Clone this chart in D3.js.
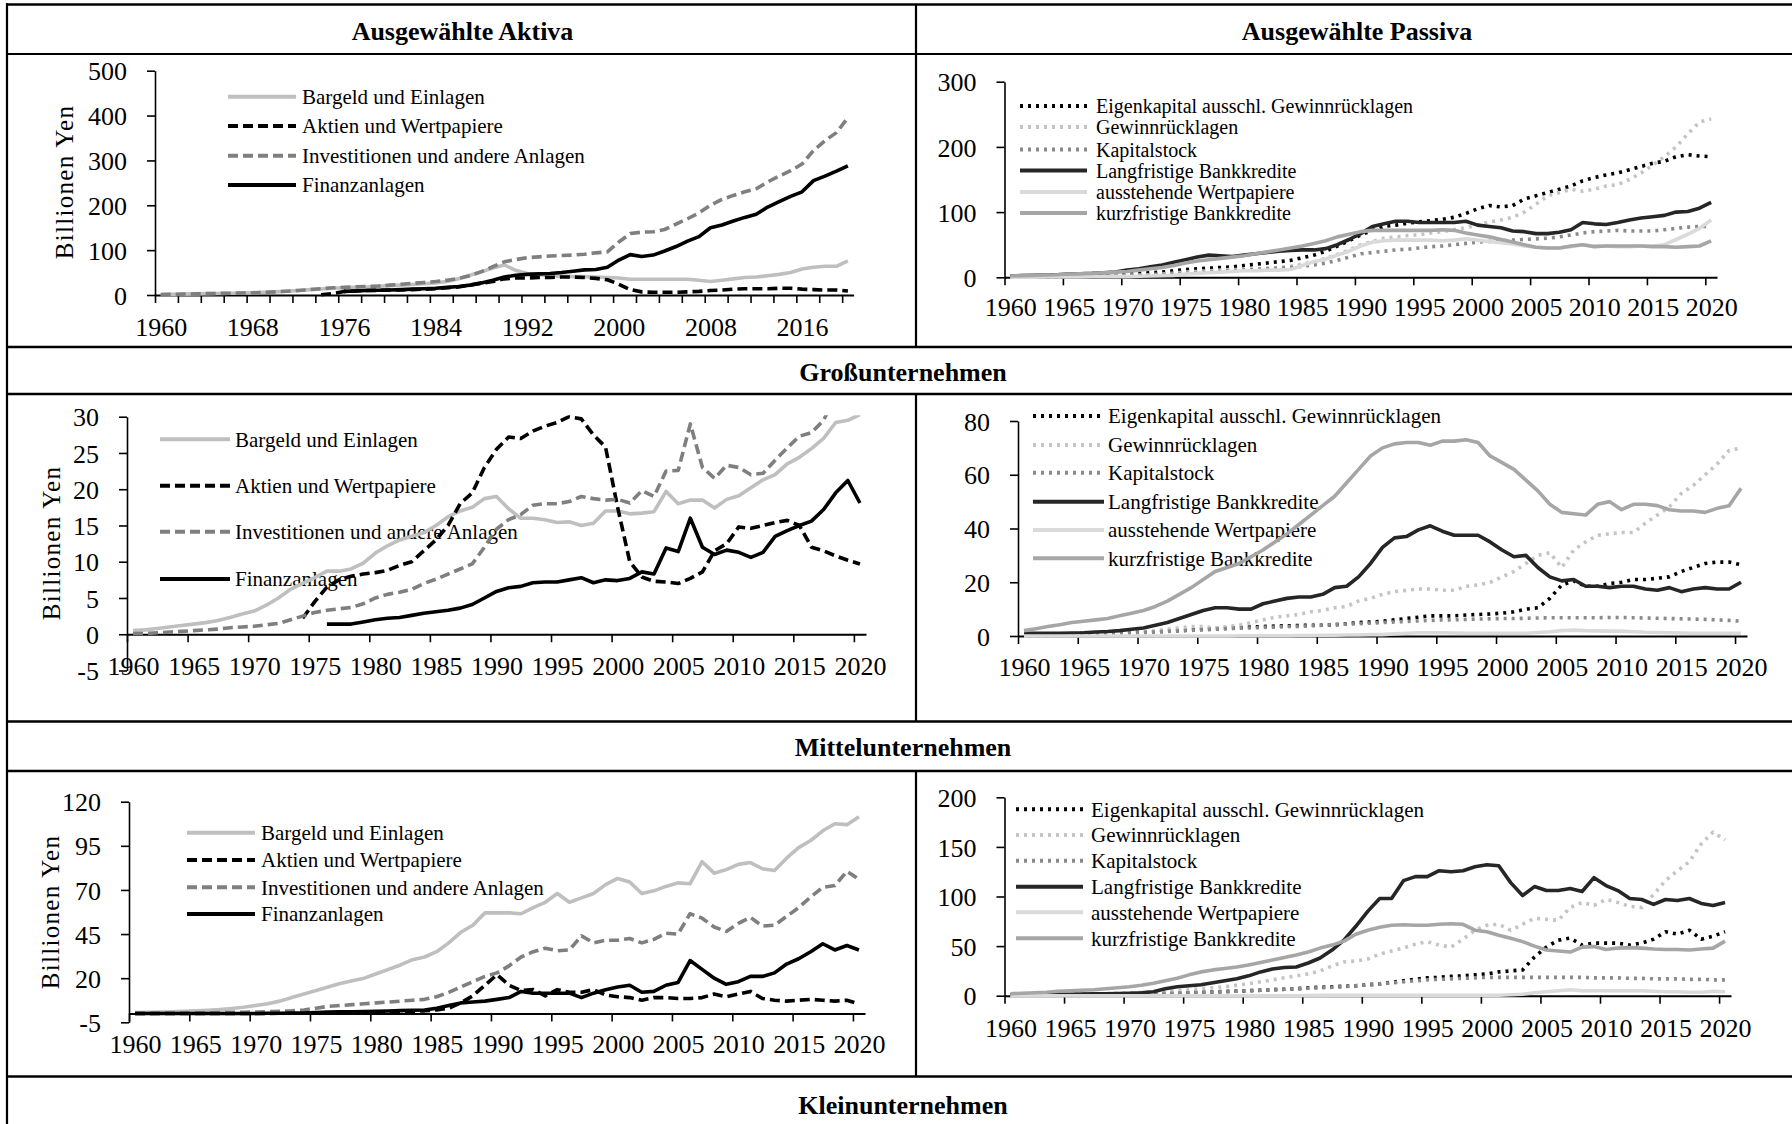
<!DOCTYPE html>
<html><head><meta charset="utf-8">
<script src="https://cdn.jsdelivr.net/npm/d3@7"></script>
<style>html,body{margin:0;padding:0;background:#fff;}svg{display:block;}</style>
</head><body>
<svg id="chart" width="1792" height="1124"></svg>
<script>
const years = d3.range(1960, 2021);

const headerTexts = ["Ausgewählte Aktiva", "Ausgewählte Passiva", "Großunternehmen", "Mittelunternehmen", "Kleinunternehmen"];
const aktivaNames = ["Bargeld und Einlagen", "Aktien und Wertpapiere", "Investitionen und andere Anlagen", "Finanzanlagen"];
const passivaNames = ["Eigenkapital ausschl. Gewinnrücklagen", "Gewinnrücklagen", "Kapitalstock", "Langfristige Bankkredite", "ausstehende Wertpapiere", "kurzfristige Bankkredite"];
const yAxisTitle = "Billionen Yen";

// ---------- Ausgewählte Aktiva (gesamt) ----------
const bargeldGesamt = [1,1.5,2,2.5,3,3.5,4,4.5,5,6, 7,8.5,10,12,13.5,15,16,17,18,19.5, 21,22,23.5,25,27,30,36,44,52,60, 67,55,48,45,43,42,41,41,40,39, 38,35,35,35,35,35,35,33,30,33, 36,39,40,43,46,50,58,62,64,64, 76];
const aktienGesamt = [null,null,null,null,null,null,null,null,null,null, null,null,null,null,0.5,3,8,9,10,10.5, 11,11.5,12,13,14,16,18,22,26,30, 36,38,38,39,39,40,40,39,37,34, 24,12,7,6,6,6,7,8,10,11, 13,14,14,14,15,15,13,12,11,11, 9];
const investGesamt = [1,1.5,2,2.5,3,3.5,4,4.5,5,6, 7,8.5,10,12,14,16,17,18,19,20, 22,24,26,28,30,33,37,43,52,63, 74,79,83,85,87,88,89,91,94,96, 118,137,140,141,146,158,170,183,200,213, 222,230,237,252,265,277,292,322,344,362, 395];
const finanzGesamt = [null,null,null,null,null,null,null,null,null,null, null,null,null,null,null,null,8,9,10,10.5, 11,12,13,14,15,17,19,22,27,33, 40,44,46,47,48,50,53,56,57,62, 78,90,86,89,98,108,120,130,150,156, 165,173,180,196,208,220,230,255,265,276, 288];

// ---------- Ausgewählte Passiva (gesamt) ----------
const eigenGesamt = [1,1.5,2,2.5,3,3.5,4,4,4.5,5, 5,6,7,8,10,12,13,14,15,16, 18,20,22,24,26,30,34,40,48,56, 65,72,78,80,83,85,87,89,92,98, 105,110,108,110,120,125,130,135,140,148, 153,157,160,165,170,175,178,185,188,186, 185];
const gewinnGesamt = [0,0.5,0.5,1,1,1.5,1.5,2,2,2.5, 3,3.5,4,5,6,8,9,10,11,12, 12,13,14,15,17,20,24,29,35,42, 50,55,60,62,64,65,68,70,73,76, 80,85,88,92,100,112,125,130,135,132, 135,140,142,150,160,172,185,200,220,238, 243];
const kapitalGesamt = [0,0.5,0.5,1,1,1,1.5,1.5,2,2, 2,2.5,3,4,5,6,7,8,9,10, 11,12,13,14,15,17,19,22,26,31, 36,38,40,42,43,45,47,48,50,52, 54,55,56,57,58,59,60,62,65,68, 70,71,72,71,71,71,73,75,77,78, 78];
const langGesamt = [2,2.5,3,3.5,4,5,5.5,6,7,8, 11,13,16,19,23,27,31,34,33,32, 34,36,38,40,41,42,42,44,50,58, 67,78,82,86,86,84,84,84,84,86, 80,78,76,71,70,67,67,69,73,84, 82,81,84,88,91,93,95,100,101,106, 115];
const austGesamt = [0,0,0,0.5,0.5,0.5,0.5,1,1,1, 1,1.5,2,2.5,3,5,6,7,8,9, 10,10,11,11,12,18,24,28,34,40, 48,54,56,57,57,57,57,56,57,59, 57,55,53,51,48,46,45,45,47,50, 48,48,47,47,48,48,50,58,66,75, 88];
const kurzGesamt = [2,2.5,3,3.5,4,5,5.5,6,7,8, 9,11,13,15,18,22,25,27,29,31, 33,36,39,42,45,48,52,56,62,66, 70,72,72,72,72,72,72,73,72,68, 65,62,58,54,50,46,45,45,48,50, 47,48,48,48,48,47,47,46,47,48, 56];

// ---------- Großunternehmen ----------
const bargeldGross = [0.5,0.6,0.8,1,1.2,1.4,1.6,1.9,2.3,2.8, 3.2,4,5,6.2,7,7.8,8.7,8.7,9,9.8, 11.2,12.2,13,13.5,14,15,16.2,17,17.5,18.7, 19,17.3,16,16,15.8,15.4,15.5,15,15.3,17, 17,16.6,16.7,16.9,19.7,18,18.5,18.5,17.4,18.6, 19.1,20.2,21.3,22,23.5,24.4,25.6,27,29.2,29.5, 30.3];
const aktienGross = [null,null,null,null,null,null,null,null,null,null, null,null,null,null,2.2,4.5,6.5,7.5,8,8.3, 8.5,8.8,9.5,10,11.5,13,15,18,19.5,23, 25.5,27.2,27,28,28.7,29.2,30,29.7,27.5,25.8, 17.5,10,7.9,7.3,7.2,7,7.7,8.6,11.5,12.5, 14.8,14.6,15,15.4,15.7,15,12,11.5,10.8,10.2, 9.7];
const investGross = [0.1,0.1,0.2,0.3,0.4,0.5,0.6,0.7,0.9,1, 1.1,1.3,1.5,2,2.5,3,3.3,3.5,3.7,4.2, 5,5.5,5.8,6.2,7,7.6,8.3,9,9.7,12, 14.5,15.8,16.5,17.8,18,18,18.3,19,18.7,18.5, 18.6,18.1,19.8,19,22.5,22.6,29,23,21.5,23.3, 23,22,22.2,24,25.7,27.3,27.8,29.5,33,34, 35];
const finanzGross = [null,null,null,null,null,null,null,null,null,null, null,null,null,null,null,null,1.4,1.4,1.4,1.7, 2,2.2,2.3,2.6,2.9,3.1,3.3,3.6,4.1,5, 5.9,6.4,6.6,7.1,7.2,7.2,7.5,7.8,7.1,7.5, 7.4,7.7,8.6,8.3,11.9,11.4,16,12,11,11.6, 11.3,10.6,11.3,13.5,14.3,15,15.6,17.2,19.5,21.2, 18.1];

const eigenGross = [0.5,0.5,0.6,0.7,0.8,1,1,1.1,1.2,1.3, 1.5,1.6,1.8,2,2.2,2.5,2.7,2.9,3.1,3.3, 3.5,3.7,3.8,3.9,4,4,4.2,4.5,5,5.2, 5.5,6,6.5,7,7.5,7.5,7.5,7.8,8,8.2, 8.5,9,10,10.5,14,19,20.5,18.5,18.5,19.5, 20,21,21,21.5,22,24,25.5,27,27.5,27.5, 26.5];
const gewinnGross = [0,0.1,0.2,0.3,0.4,0.5,0.6,0.8,1,1.2, 1.5,2,2.5,3,3.5,3.5,3,3.5,4,5, 6,7,7.5,8,9,9.5,10.5,11,13,14, 15.5,16.5,17,17.5,17.5,17,17,18.5,19,20, 22,24,27,30,31,25.5,32,35,37.5,38, 38.5,38.5,42,45,48,53,56,60,64,69, 70];
const kapitalGross = [0.5,0.5,0.6,0.7,0.8,0.9,1,1,1.1,1.2, 1.3,1.5,1.7,1.9,2.1,2.3,2.5,2.7,2.9,3, 3.2,3.3,3.5,3.6,3.8,4,4.2,4.4,4.6,4.8, 5,5.2,5.4,5.6,5.8,6,6,6.2,6.3,6.4, 6.5,6.5,6.6,6.7,6.8,6.8,6.8,6.8,6.8,6.9, 6.9,6.8,6.7,6.6,6.5,6.4,6.3,6.2,6,5.8, 5.5];
const langGross = [1,1,1,1,1.1,1.2,1.5,1.7,2,2.5, 3,4,5,6.5,8,9.5,10.5,10.5,10,10, 12,13,14,14.5,14.5,15.5,18,18.5,22,27, 33,36.5,37,39.5,41,39,37.5,37.5,37.5,35, 32,29.5,30,25.5,22,20.5,21,18.5,18.5,18, 18.5,18.5,17.5,17,18,16.5,17.5,18,17.5,17.5, 20];
const austGross = [0,0,0,0,0,0,0,0,0,0, 0,0,0,0,0,0,0,0,0.1,0.1, 0.1,0.1,0.1,0.2,0.2,0.3,0.3,0.4,0.4,0.5, 0.5,0.8,1,1.2,1.2,1.2,1.1,1,1,1, 1,1,1,1.3,1.6,2,2.2,2,1.9,1.8, 1.8,1.6,1.4,1.3,1.2,1.1,1,1,1,1, 1];
const kurzGross = [2,2.7,3.5,4.2,5,5.5,6,6.5,7.5,8.5, 9.5,11,13,15.5,18,21,24,25.5,27,29.5, 32,35,38,41.5,45,48.5,52,57,62,67, 70,71.5,72,72,71,72.5,72.5,73,72,67, 64.5,62,58,54,49,46,45.5,45,49,50, 47,49,49,48.5,47,46.5,46.5,46,47.5,48.5, 55];

// ---------- Mittelunternehmen ----------
const bargeldMittel = [0.5,0.6,0.8,1,1.2,1.5,1.8,2.2,2.8,3.5, 4.5,5.5,7,9,11,13,15,17,18.5,20, 22.5,25,27.5,30.5,32,35,40,46,50,57, 57,57,56.5,60,63,68,63,65.5,68,73, 76.5,74.5,68,69.5,72,74,73.5,86,79.5,81.5, 84.5,85.5,82,81,88,94,98,103.5,107.5,107, 111.5];
const aktienMittel = [0,0,0,0,0,0,0,0,0,0, 0,0,0.1,0.1,0.2,0.3,0.4,0.5,0.6,0.7, 0.8,0.9,1,1.2,1.5,2,3,6,10,16, 22,16,13,13.5,10,13.5,12,12,13.5,10.5, 9.5,9,7.5,9,9,8.5,8.5,9,11,9.5, 11,12.5,8.5,7.5,7,7.5,8,7.5,7,7.5, 5.5];
const investMittel = [0,0,0.1,0.1,0.2,0.3,0.4,0.5,0.6,0.7, 0.8,1,1.2,1.5,2,3,4,4.5,5,5.5, 6,6.5,7,7.5,8,9.5,12,15,18,21, 23,27,32,35,37,35.5,36,44,40,41.5, 41.5,42.5,40,42,45.5,45,56.5,54,49,46.5, 51,54.5,49.5,50,55,60,66,71.5,72.5,80.5, 76];
const finanzMittel = [0,0,0,0,0,0,0,0,0,0, 0,0.1,0.1,0.2,0.3,0.5,0.8,0.9,1,1.1, 1.3,1.4,1.6,1.8,2,3,4.5,6,6.5,7, 8,9,12.5,11.5,11.5,11.5,11.5,9,11.5,13.5, 15,16,12,12.5,16,17.5,30,25,20,16.5, 18,21,21,23,28,31,35,39.5,36,38.5, 36];

const eigenMittel = [0.5,0.6,0.7,0.8,0.9,1,1.1,1.2,1.3,1.4, 1.5,1.7,2,2.3,2.6,3,3.4,3.8,4.2,4.6, 5,5.5,6,6.5,7,8,8.5,9,9.5,10, 11,12,13.5,15,16.5,18,18.5,19.5,20,21, 22,24,25,26,39,49,56,58,51,53, 53,53,51,53,57,64.5,62,66,57,60, 64.5];
const gewinnMittel = [0,0.2,0.4,0.6,0.8,1,1.3,1.6,2,2.5, 3,3.5,4,4.5,5,6,7,8,9,10.5, 12,14,16,18,20,22,25,30,34,35, 37,42,45,48,52,54.5,51,49,57,66, 71,72,66,72,78,77,76,89,94,91, 97,94,90,89,102,116,126,135,153,165, 157];
const kapitalMittel = [0.5,0.6,0.7,0.8,0.9,1,1.1,1.2,1.3,1.4, 1.5,1.7,2,2.3,2.6,3,3.4,3.8,4.2,4.6, 5,5.5,6,6.5,7,7.5,8,8.5,9,10, 11,12,13,14,15,16,16.5,17,17.5,18, 18.5,18.5,18.5,18.5,18.5,18.5,18.5,18.5,18.5,18, 18,18,17.5,17.5,17,17,17,16.5,16.5,16, 16];
const langMittel = [1,1.2,1.3,1.4,1.5,1.5,1.6,1.8,2,2.2, 2.5,3,4,7,9,10,11,13,15,17, 20,24,27,28.5,29,33,38,46,56,70, 85,98,98,116,120,120,126,125,126,130, 132,131,114,101,110,106,106,108,105,119, 111,106,98,97,92,97,96,98,93,91, 94];
const austMittel = [0,0,0,0,0,0,0,0,0,0, 0,0,0,0,0,0,0,0,0,0, 0,0,0,0,0,0.2,0.3,0.4,0.5,0.5, 0.5,0.5,0.5,0.5,0.5,0.5,0.5,0.5,0.5,0.5, 0.5,0.5,1,1.5,3,4,5,6,5,5, 5,5,5,5,4.5,4,4,3.5,3.5,4.5, 4];
const kurzMittel = [2,2.5,3,3.5,4.5,5,5.5,6,7,8, 9,10.5,12.5,15,17.5,21,24,26,27.5,29, 31,33.5,36,38.5,41,44,48,51,55,62, 66,69,71,71.5,71,71,72,72.5,72,66, 64.5,61,58,54.5,50,46,45,44,49,49.5, 46.5,48,48.5,48,47,46.5,46.5,46,47,48, 55];

// ---------- styles & layout ----------
const SERIF = "'Liberation Serif','Times New Roman',serif";
const aktivaStyles = [
  {color: "#bfbfbf", dash: null},
  {color: "#000000", dash: "10 5"},
  {color: "#7f7f7f", dash: "10 5"},
  {color: "#000000", dash: null}
];
const passivaStyles = [
  {color: "#000000", dash: "3 5"},
  {color: "#c4c4c4", dash: "3 5"},
  {color: "#8a8a8a", dash: "3 5"},
  {color: "#262626", dash: null},
  {color: "#dadada", dash: null},
  {color: "#a6a6a6", dash: null}
];

const panels = [
  {series: [bargeldGesamt, aktienGesamt, investGesamt, finanzGesamt], names: aktivaNames, styles: aktivaStyles,
   yDomain: [0, 500], yTicks: [0,100,200,300,400,500], x0: 155, x1: 853.6, yTop: 70.7, yBot: 295,
   tickEvery: 2, labelEvery: 8, labelBase: 336, legendSize: 21,
   legend: {sx0: 228, sx1: 296, tx: 302, rows: [96.7, 126, 155.7, 185]}, ylab: {x: 64, y: 182}},
  {series: [eigenGesamt, gewinnGesamt, kapitalGesamt, langGesamt, austGesamt, kurzGesamt], names: passivaNames, styles: passivaStyles,
   yDomain: [0, 300], yTicks: [0,100,200,300], x0: 1004.5, x1: 1717, yTop: 81.7, yBot: 277.3,
   tickEvery: 5, labelEvery: 5, labelBase: 316, legendSize: 20,
   legend: {sx0: 1020, sx1: 1087, tx: 1096, rows: [106, 127, 149.5, 170.5, 192, 213]}, ylab: null},
  {series: [bargeldGross, aktienGross, investGross, finanzGross], names: aktivaNames, styles: aktivaStyles,
   yDomain: [-5, 30], yTicks: [-5,0,5,10,15,20,25,30], x0: 127, x1: 866, yTop: 416.7, yBot: 670.5,
   tickEvery: 5, labelEvery: 5, labelBase: 675, legendSize: 21,
   legend: {sx0: 160, sx1: 230, tx: 235, rows: [439.3, 485.7, 531.7, 579]}, ylab: {x: 51.5, y: 543}},
  {series: [eigenGross, gewinnGross, kapitalGross, langGross, austGross, kurzGross], names: passivaNames, styles: passivaStyles,
   yDomain: [0, 80], yTicks: [0,20,40,60,80], x0: 1018, x1: 1747, yTop: 421, yBot: 636,
   tickEvery: 5, labelEvery: 5, labelBase: 676, legendSize: 21,
   legend: {sx0: 1033, sx1: 1104, tx: 1108, rows: [416, 445, 472.7, 501.7, 530, 558.3]}, ylab: null},
  {series: [bargeldMittel, aktienMittel, investMittel, finanzMittel], names: aktivaNames, styles: aktivaStyles,
   yDomain: [-5, 120], yTicks: [-5,20,45,70,95,120], x0: 129, x1: 865, yTop: 801.7, yBot: 1022.3,
   tickEvery: 5, labelEvery: 5, labelBase: 1053, legendSize: 21,
   legend: {sx0: 187, sx1: 255, tx: 261, rows: [832.7, 860, 887.3, 914]}, ylab: {x: 50, y: 912}},
  {series: [eigenMittel, gewinnMittel, kapitalMittel, langMittel, austMittel, kurzMittel], names: passivaNames, styles: passivaStyles,
   yDomain: [0, 200], yTicks: [0,50,100,150,200], x0: 1004.5, x1: 1731, yTop: 797.3, yBot: 995.7,
   tickEvery: 5, labelEvery: 5, labelBase: 1037, legendSize: 21,
   legend: {sx0: 1016, sx1: 1083, tx: 1091, rows: [809.3, 835, 860.7, 886.7, 912.3, 938.3]}, ylab: null}
];

const svg = d3.select("#chart");
svg.append("rect").attr("width", 1792).attr("height", 1124).attr("fill", "#fff");

// ---------- table grid ----------
const grid = svg.append("g").attr("stroke", "#000").attr("fill", "none");
[[4.5, 2.6], [54, 2], [347, 2.4], [394, 2.4], [721.5, 2.4], [771, 2.4], [1076.5, 2.4]].forEach(([yy, w]) =>
  grid.append("line").attr("x1", 6).attr("x2", 1792).attr("y1", yy).attr("y2", yy).attr("stroke-width", w));
grid.append("line").attr("x1", 7).attr("x2", 7).attr("y1", 3.2).attr("y2", 1124).attr("stroke-width", 2.2);
[[4.5, 347], [394, 721.5], [771, 1076.5]].forEach(([a, b]) => grid.append("line").attr("x1", 916).attr("x2", 916).attr("y1", a).attr("y2", b).attr("stroke-width", 2.2));

// ---------- headers ----------
const headerPos = [[462.5, 40], [1357, 40], [903, 381], [903, 756], [903, 1114]];
headerTexts.forEach((t, i) => svg.append("text").attr("x", headerPos[i][0]).attr("y", headerPos[i][1])
  .attr("text-anchor", "middle").attr("font-family", SERIF).attr("font-weight", "bold").attr("font-size", 26).attr("fill", "#000").text(t));

// ---------- panels ----------
panels.forEach((p, pi) => {
  const g = svg.append("g");
  const n = years.length;
  const xIdx = d3.scaleLinear().domain([0, n]).range([p.x0, p.x1]);
  const y = d3.scaleLinear().domain(p.yDomain).range([p.yBot, p.yTop]);
  const y0 = y(0);

  // legend
  const lg = g.append("g");
  p.names.forEach((name, i) => {
    const st = p.styles[i];
    lg.append("line").attr("x1", p.legend.sx0).attr("x2", p.legend.sx1).attr("y1", p.legend.rows[i]).attr("y2", p.legend.rows[i])
      .attr("stroke", st.color).attr("stroke-width", 4).attr("stroke-dasharray", st.dash);
    lg.append("text").attr("x", p.legend.tx).attr("y", p.legend.rows[i]).attr("dy", "0.35em")
      .attr("font-family", SERIF).attr("font-size", p.legendSize).attr("fill", "#000").text(name);
  });

  // y axis
  const ya = g.append("g").attr("transform", `translate(${p.x0},0)`)
    .call(d3.axisLeft(y).tickValues(p.yTicks).tickSize(8).tickSizeOuter(0).tickPadding(20).tickFormat(d => String(d)));
  ya.attr("font-family", SERIF).attr("font-size", 26);
  ya.select(".domain").attr("stroke", "#000").attr("stroke-width", 1.6);
  ya.selectAll(".tick line").attr("stroke", "#000").attr("stroke-width", 1.6);
  ya.selectAll(".tick text").attr("fill", "#000").attr("dy", "0.35em");

  // x axis (ticks at category boundaries)
  const xa = g.append("g").attr("transform", `translate(0,${y0})`)
    .call(d3.axisBottom(xIdx).tickValues(d3.range(0, n, p.tickEvery)).tickSize(8).tickSizeOuter(0).tickFormat(""));
  xa.select(".domain").attr("stroke", "#000").attr("stroke-width", 2);
  xa.selectAll(".tick line").attr("stroke", "#000").attr("stroke-width", 1.6);

  // x labels (category centers)
  const xl = g.append("g").attr("transform", `translate(0,${y0})`)
    .call(d3.axisBottom(xIdx).tickValues(d3.range(0, n, p.labelEvery).map(i => i + 0.5)).tickSize(0).tickFormat(i => years[Math.floor(i)]));
  xl.select(".domain").remove();
  xl.attr("font-family", SERIF).attr("font-size", 26);
  xl.selectAll(".tick text").attr("fill", "#000").attr("y", p.labelBase - y0).attr("dy", 0);

  // y axis title
  if (p.ylab) {
    g.append("text").attr("transform", `translate(${p.ylab.x},${p.ylab.y}) rotate(-90)`)
      .attr("text-anchor", "middle").attr("dy", "0.35em").attr("font-family", SERIF).attr("font-size", 25)
      .attr("letter-spacing", 1.3).attr("fill", "#000").text(yAxisTitle);
  }

  // lines
  const clipId = "clip" + pi;
  g.append("clipPath").attr("id", clipId).append("rect")
    .attr("x", p.x0).attr("y", p.yTop - 1.5).attr("width", p.x1 - p.x0 + 4).attr("height", p.yBot - p.yTop + 4);
  const line = d3.line().defined(d => d != null).x((d, i) => xIdx(i + 0.5)).y(d => y(d));
  const lines = g.append("g").attr("clip-path", `url(#${clipId})`);
  p.series.forEach((vals, i) => {
    const st = p.styles[i];
    lines.append("path").datum(vals).attr("d", line).attr("fill", "none")
      .attr("stroke", st.color).attr("stroke-width", 3.6).attr("stroke-linejoin", "round")
      .attr("stroke-dasharray", st.dash);
  });
});
</script>
</body></html>
